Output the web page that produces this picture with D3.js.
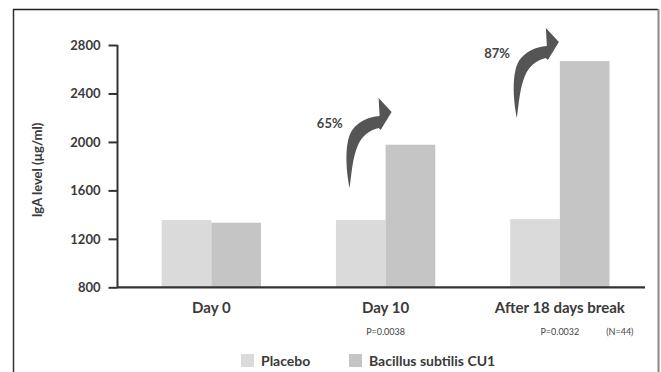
<!DOCTYPE html>
<html><head><meta charset="utf-8">
<script src="https://cdn.jsdelivr.net/npm/d3@7/dist/d3.min.js"></script>
<style>
html,body{margin:0;padding:0;background:#fff;}
svg{display:block;font-family:Lato,"Open Sans",sans-serif;}
</style></head>
<body>
<script>
const categories = ["Day 0", "Day 10", "After 18 days break"];
const seriesNames = ["Placebo", "Bacillus subtilis CU1"];
const placebo = [1355, 1355, 1363];
const bacillus = [1333, 1977, 2667];
const yTicks = [800, 1200, 1600, 2000, 2400, 2800];
const pValues = ["", "P=0.0038", "P=0.0032"];
const increases = ["", "65%", "87%"];
const nNote = "(N=44)";
const yTitle = "IgA level (\u00b5g/ml)";

const colors = ["#dadada", "#c5c5c5"];
const W = 661, H = 372;
const svg = d3.select("body").append("svg").attr("width", W).attr("height", H);

// frame
svg.append("line").attr("x1",13.5).attr("x2",13.5).attr("y1",9).attr("y2",H).attr("stroke","#333").attr("stroke-width",1.5);
svg.append("line").attr("x1",13).attr("x2",658).attr("y1",9.5).attr("y2",9.5).attr("stroke","#222").attr("stroke-width",1.5);
svg.append("line").attr("x1",658.5).attr("x2",658.5).attr("y1",9).attr("y2",H).attr("stroke","#888").attr("stroke-width",2);

const y = d3.scaleLinear().domain([800, 2800]).range([287.3, 45]);
const x = d3.scaleBand().domain(categories).range([124.2, 647]).paddingInner(0.43).paddingOuter(0.215);
const xs = d3.scaleBand().domain(seriesNames).range([0, x.bandwidth()]);

const data = categories.map((c,i)=>({c, vals:[placebo[i], bacillus[i]]}));

const g = svg.append("g");
data.forEach(d=>{
  d.vals.forEach((v,j)=>{
    g.append("rect")
      .attr("x", x(d.c) + xs(seriesNames[j]))
      .attr("width", xs.bandwidth())
      .attr("y", y(v))
      .attr("height", y(800) - y(v))
      .attr("fill", colors[j]);
  });
});

// y axis
const yAxis = svg.append("g").attr("transform","translate(117.5,0)")
  .call(d3.axisLeft(y).tickValues(yTicks).tickSize(9).tickPadding(8).tickFormat(d3.format("d")));
yAxis.selectAll(".domain").attr("stroke","#333").attr("stroke-width",2).attr("d","M0,45V287.3");
yAxis.selectAll(".tick line").attr("stroke","#333").attr("stroke-width",2);
yAxis.selectAll("text").attr("font-size",13).attr("font-weight","bold").attr("fill","#3a3a3a").attr("font-family","Lato");

// x axis line
svg.append("line").attr("x1",117).attr("x2",645).attr("y1",y(800)).attr("y2",y(800)).attr("stroke","#333").attr("stroke-width",2.2);

// category labels
svg.selectAll(".cat").data(categories).enter().append("text")
  .attr("x", d=>x(d)+x.bandwidth()/2).attr("y", 313)
  .attr("text-anchor","middle").attr("font-size",15).attr("font-weight","bold").attr("fill","#3a3a3a")
  .text(d=>d);

// p values
svg.selectAll(".pv").data(categories).enter().append("text")
  .attr("x", d=>x(d)+x.bandwidth()/2).attr("y", 335)
  .attr("text-anchor","middle").attr("font-size",9).attr("fill","#444")
  .text((d,i)=>pValues[i]);
svg.append("text").attr("x", x(categories[2])+x.bandwidth()/2 + 60).attr("y",335)
  .attr("text-anchor","middle").attr("font-size",9).attr("fill","#444").text(nNote);

// y title
svg.append("text").attr("transform","translate(42,170) rotate(-90)")
  .attr("text-anchor","middle").attr("font-size",13).attr("font-weight","bold").attr("fill","#3a3a3a")
  .text(yTitle);

// arrows and increase labels
const arrowPath = "M0,0 C-4,-20 -5,-45 2,-57 C8,-66 18,-71 30,-72 L29,-90 L42,-76 L31,-58 L29,-60 C20,-58 12,-52 8,-42 C3,-30 2,-15 0,0 Z";
[1,2].forEach(i=>{
  const bx = x(categories[i]) + x.bandwidth()/2;
  const base = i===1 ? [bx-36, 188] : [bx-43, 118];
  svg.append("path").attr("d", arrowPath).attr("transform",`translate(${base[0]},${base[1]})`)
    .attr("fill","#555");
  svg.append("text").attr("x", base[0]-7).attr("y", base[1]-60)
    .attr("text-anchor","end").attr("font-size",13).attr("font-weight","bold").attr("fill","#444")
    .text(increases[i]);
});

// legend
const lg = svg.append("g");
const legX = [241, 349];
seriesNames.forEach((s,j)=>{
  lg.append("rect").attr("x",legX[j]).attr("y",354).attr("width",13).attr("height",13).attr("fill",colors[j]);
  lg.append("text").attr("x",legX[j]+20).attr("y",366).attr("font-size",14).attr("font-weight","bold").attr("fill","#3a3a3a").text(s);
});
</script>
</body></html>
